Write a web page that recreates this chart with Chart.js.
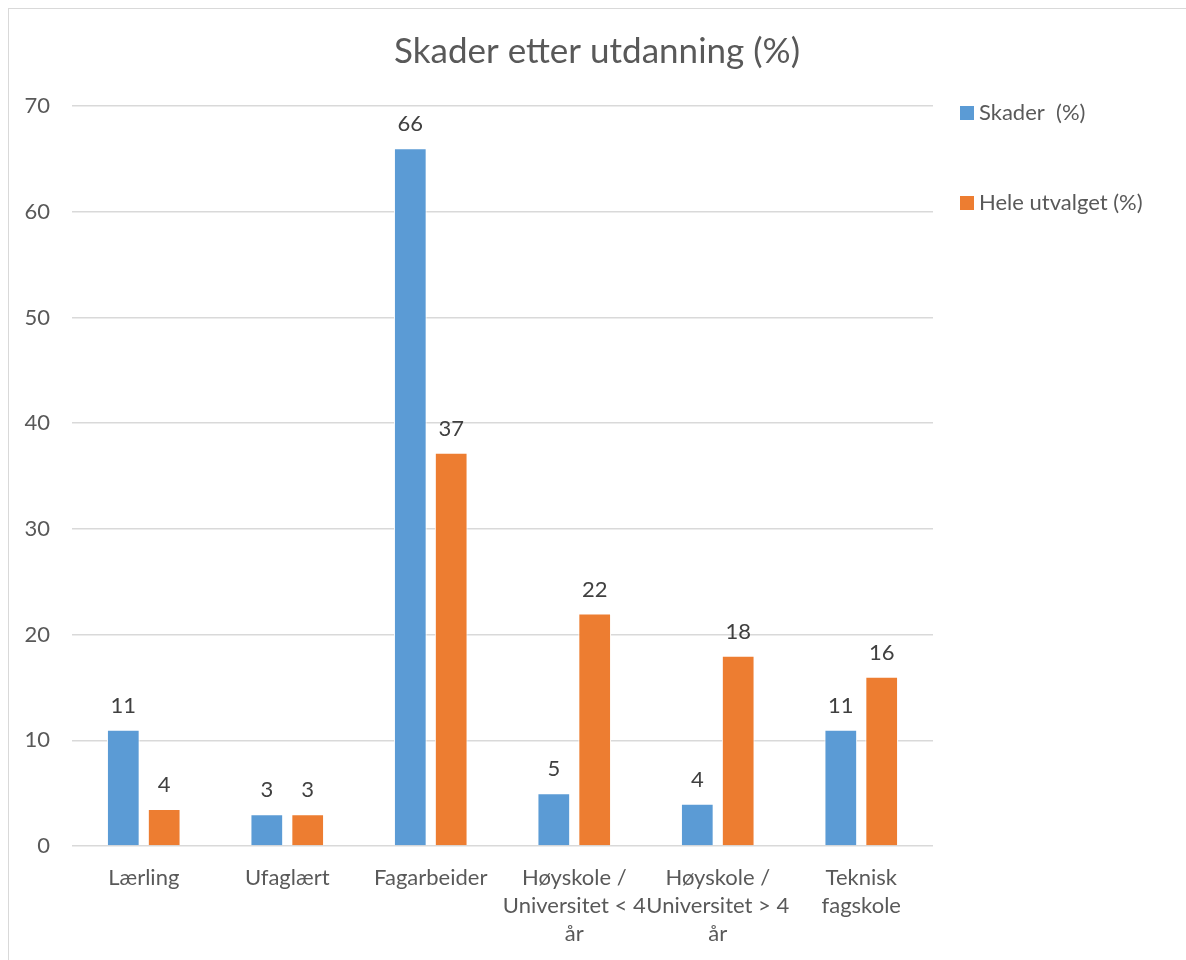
<!DOCTYPE html>
<html>
<head>
<meta charset="utf-8">
<script src="https://cdn.jsdelivr.net/npm/chart.js@4/dist/chart.umd.min.js"></script>
<style>
  html, body { margin: 0; padding: 0; background: #fff; }
  #frame { position: absolute; left: 8px; top: 8px; width: 1200px; height: 1000px; border: 1px solid #d9d9d9; }
  #wrap { position: absolute; left: 0; top: 0; width: 1186px; height: 960px; }
</style>
</head>
<body>
<div id="frame"></div>
<div id="wrap"><canvas id="chart"></canvas></div>
<script>
const categories = ['Lærling', 'Ufaglært', 'Fagarbeider', ['Høyskole /', 'Universitet < 4', 'år'], ['Høyskole /', 'Universitet > 4', 'år'], ['Teknisk', 'fagskole']];
const skader = [11, 3, 66, 5, 4, 11];
const heleUtvalget = [3.5, 3, 37.2, 22, 18, 16];
const seriesNames = ['Skader  (%)', 'Hele utvalget (%)'];
const yTicks = [0, 10, 20, 30, 40, 50, 60, 70];
const chartTitle = 'Skader etter utdanning (%)';

const FONT = 'Lato, "Open Sans", sans-serif';
const TEXT = '#595959';

// value labels above each bar
const barLabels = {
  id: 'barLabels',
  afterDatasetsDraw(chart) {
    const ctx = chart.ctx;
    ctx.save();
    ctx.font = '22px ' + FONT;
    ctx.fillStyle = '#404040';
    ctx.textAlign = 'center';
    ctx.textBaseline = 'bottom';
    chart.data.datasets.forEach((ds, i) => {
      chart.getDatasetMeta(i).data.forEach((bar, j) => {
        ctx.fillText(Math.round(ds.data[j]), bar.x, bar.y - 13);
      });
    });
    ctx.restore();
  }
};

// title over the whole canvas + legend on the right, drawn by hand
const sideLegend = {
  id: 'sideLegend',
  afterDraw(chart) {
    const ctx = chart.ctx;
    ctx.save();
    ctx.font = '35px ' + FONT;
    ctx.fillStyle = TEXT;
    ctx.textAlign = 'center';
    ctx.textBaseline = 'middle';
    ctx.fillText(chartTitle, 597, 52);

    const x = chart.chartArea.right + 27;
    ctx.font = '22px ' + FONT;
    ctx.textAlign = 'left';
    chart.data.datasets.forEach((ds, i) => {
      const y = 113 + i * 90;
      ctx.fillStyle = ds.backgroundColor;
      ctx.fillRect(x, y - 7, 14, 14);
      ctx.fillStyle = TEXT;
      ctx.fillText(ds.label, x + 19, y);
    });
    ctx.restore();
  }
};

new Chart(document.getElementById('chart'), {
  type: 'bar',
  data: {
    labels: categories,
    datasets: [
      { label: seriesNames[0], data: skader, backgroundColor: '#5B9BD5', borderColor: '#ffffff', borderWidth: 1 },
      { label: seriesNames[1], data: heleUtvalget, backgroundColor: '#ED7D31', borderColor: '#ffffff', borderWidth: 1 }
    ]
  },
  options: {
    responsive: true,
    maintainAspectRatio: false,
    animation: false,
    categoryPercentage: 0.57,
    barPercentage: 0.8,
    layout: { padding: { left: 0, right: 253, top: 106, bottom: 0 } },
    plugins: {
      legend: { display: false },
      tooltip: { enabled: false },
      title: { display: false }
    },
    scales: {
      x: {
        grid: { display: false, drawTicks: false },
        border: { display: false },
        ticks: {
          color: TEXT,
          font: { family: FONT, size: 22, lineHeight: 1.27 },
          padding: 18,
          maxRotation: 0,
          autoSkip: false
        },
        afterFit(scale) { scale.height = 114; }
      },
      y: {
        min: 0,
        max: 70,
        afterBuildTicks(scale) { scale.ticks = yTicks.map(v => ({ value: v })); },
        grid: { color: '#d9d9d9', lineWidth: 1.5, drawTicks: false },
        border: { display: false },
        ticks: {
          color: TEXT,
          font: { family: FONT, size: 22 },
          padding: 22
        },
        afterFit(scale) { scale.width = 72; }
      }
    }
  },
  plugins: [barLabels, sideLegend]
});
</script>
</body>
</html>
